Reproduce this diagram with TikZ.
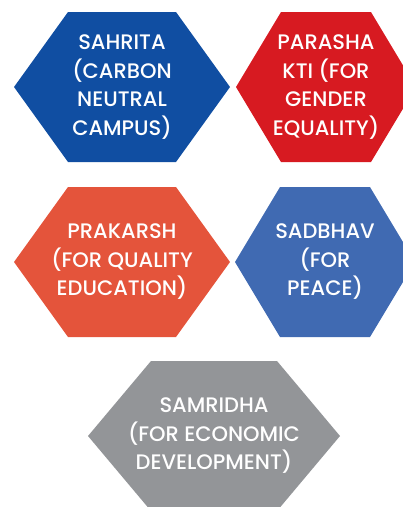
\documentclass[tikz,border=0pt]{standalone}
\usepackage{fontspec}
\setmainfont{Poppins}[UprightFont=* Medium]

\definecolor{sahritablue}{HTML}{104EA2}
\definecolor{parashared}{HTML}{D71A21}
\definecolor{prakarshorange}{HTML}{E4543B}
\definecolor{sadbhavblue}{HTML}{406AB2}
\definecolor{samridhagray}{HTML}{939598}

\tikzset{
  hexlabel/.style={text=white, align=center, inner sep=0pt,
    font=\fontsize{21}{28.5}\selectfont}
}

% hexagon with flat top: name, centre, half width, colour, text
\newcommand{\HexVertex}[5]{%
  \fill[#4] (#2) ++(-#3,0) -- ++(#3/2,-75) -- ++(#3,0) -- ++(#3/2,75)
    -- ++(-#3/2,75) -- ++(-#3,0) -- cycle;
  \node[hexlabel] (#1) at (#2) {#5};}

\begin{document}
\begin{tikzpicture}[x=1pt, y=-1pt]
    \useasboundingbox (0,0) rectangle (403,507);
    \clip (0,0) rectangle (403,507);
    \HexVertex{sahrita}{122,87}{108}{sahritablue}{SAHRITA\\(CARBON\\NEUTRAL\\CAMPUS)}
    \HexVertex{parashakti}{326,87}{90}{parashared}{PARASHA\\KTI (FOR\\GENDER\\EQUALITY)}
    \HexVertex{prakarsh}{122,262}{108}{prakarshorange}{PRAKARSH\\(FOR QUALITY\\EDUCATION)}
    \HexVertex{sadbhav}{325,262}{90}{sadbhavblue}{SADBHAV\\(FOR\\PEACE)}
    \HexVertex{samridha}{214,436}{126}{samridhagray}{SAMRIDHA\\(FOR ECONOMIC\\DEVELOPMENT)}
\end{tikzpicture}
\end{document}
